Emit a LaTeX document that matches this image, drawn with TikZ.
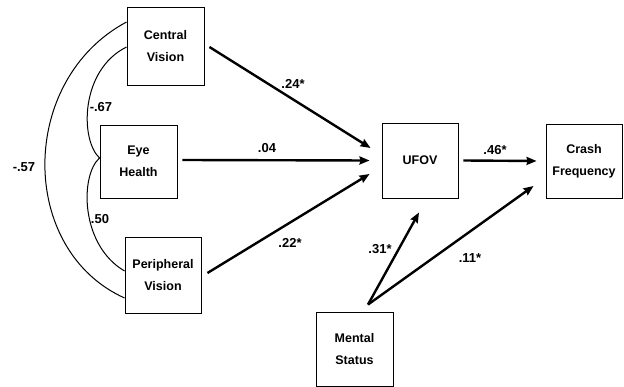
\documentclass[tikz,border=0pt]{standalone}
\usepackage{fontspec}
\setmainfont{Liberation Sans}
\usetikzlibrary{arrows.meta}
\begin{document}
\begin{tikzpicture}[x=1pt,y=-1pt,
  box/.style={draw,line width=0.9pt,inner sep=0pt,align=center,
    font=\fontsize{12.5}{22}\selectfont\bfseries},
  path/.style={line width=2.4pt,-{Stealth[length=10pt,width=8pt,inset=1pt]}},
  corr/.style={line width=1pt},
  lbl/.style={font=\fontsize{13}{14}\selectfont\bfseries,inner sep=0pt}]
\useasboundingbox (0,0) rectangle (624,387);
\node[box,minimum width=77pt,minimum height=78pt] (cv) at (165.5,46) {Central\\Vision};
\node[box,minimum width=77pt,minimum height=73pt] (eh) at (138.5,161.5) {Eye\\Health};
\node[box,minimum width=76pt,minimum height=76pt] (pv) at (163,275) {Peripheral\\Vision};
\node[box,minimum width=76pt,minimum height=75pt] (uf) at (420,160.5) {UFOV};
\node[box,minimum width=76pt,minimum height=74pt] (cf) at (584,161) {Crash\\Frequency};
\node[box,minimum width=77pt,minimum height=74pt] (ms) at (354.5,349) {Mental\\Status};
% paths
\draw[path] ([shift={(5,1)}]cv.east) -- ([shift={(-11,-12.5)}]uf.west);
\draw[path] ([shift={(5,-1.5)}]eh.east) -- ([shift={(-12,0)}]uf.west);
\draw[path] ([shift={(6,-2)}]pv.east) -- ([shift={(-12,13.5)}]uf.west);
\draw[path] ([shift={(5,0)}]uf.east) -- ([shift={(-9,0)}]cf.west);
\coordinate (msp) at ([shift={(13.5,-7)}]ms.north);
\draw[path] (msp) -- ([shift={(-1,14)}]uf.south);
\draw[path] (msp) -- ([shift={(-12,25)}]cf.west);
% correlations
\draw[corr] ([shift={(0,-24)}]cv.west) .. controls (18,80) and (18,250) .. ([shift={(0,23)}]pv.west);
\draw[corr] ([shift={(0,1)}]cv.west) .. controls (80,70) and (80,140) .. ([shift={(0,-3.5)}]eh.west);
\draw[corr] ([shift={(0,-3.5)}]eh.west) .. controls (80,175) and (80,245) .. ([shift={(0,-4)}]pv.west);
% labels
\node[lbl] (l1) at (293,84) {.24*};
\node[lbl] (l2) at (267,148) {.04};
\node[lbl] (l3) at (290,243) {.22*};
\node[lbl] (l4) at (495,150) {.46*};
\node[lbl] (l5) at (380,249) {.31*};
\node[lbl] (l6) at (470,258) {.11*};
\node[lbl] (l7) at (101,107) {-.67};
\node[lbl] (l8) at (100,219) {.50};
\node[lbl] (l9) at (24,167) {-.57};
\end{tikzpicture}
\end{document}
